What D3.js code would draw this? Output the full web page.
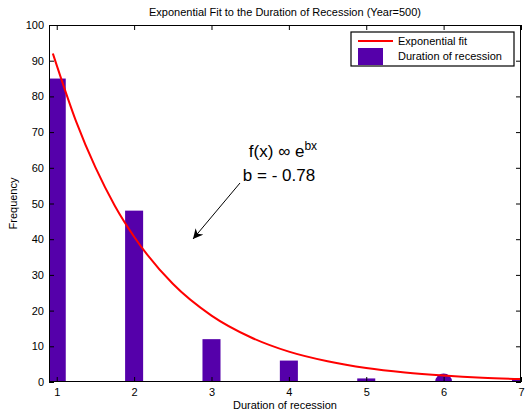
<!DOCTYPE html>
<html lang="en">
<head>
<meta charset="UTF-8">
<title>Exponential Fit to the Duration of Recession</title>
<script src="https://d3js.org/d3.v7.min.js"></script>
<style>
  body {
    margin: 0;
    background: #fff;
    font-family: "Liberation Sans", Arial, Helvetica, sans-serif;
  }
  svg text { fill: #000; }
</style>
</head>
<body>
<div id="chart"></div>
<script>

// ------ data ------

const durations = [1, 2, 3, 4, 5, 6, 7];
const frequencies = [85, 48, 12, 6, 1, 0, 1];
const markerDurations = [6];               // the round marker sitting on the axis

// exponential fit curve, sampled from the plotted line
const fitX = [0.95, 1, 1.25, 1.5, 1.75, 2, 2.5, 3, 3.5, 4, 4.5, 5, 5.5, 6, 6.5, 7];
const fitY = [92, 88.7, 73, 60.1, 49.4, 40.7, 27.5, 18.6, 12.6, 8.5, 5.8, 3.9, 2.65, 1.8, 1.2, 0.82];

const xTicks = [1, 2, 3, 4, 5, 6, 7];
const yTicks = d3.range(0, 101, 10);

const legendLabels = ["Exponential fit", "Duration of recession"];

// ------ chart ------

const width = 525, height = 411;
const margin = {top: 25, right: 4, bottom: 29, left: 49};

const x = d3.scaleLinear().domain([0.9, 7]).range([margin.left, width - margin.right]);
const y = d3.scaleLinear().domain([0, 100]).range([height - margin.bottom, margin.top]);

const barWidth = 0.233;
const purple = "#5500aa";

const svg = d3.select("#chart")
  .append("svg")
    .attr("width", width)
    .attr("height", height);

svg.append("clipPath").attr("id", "plot-clip")
  .append("rect")
    .attr("x", x.range()[0])
    .attr("y", y.range()[1])
    .attr("width", x.range()[1] - x.range()[0])
    .attr("height", y.range()[0] - y.range()[1]);

const plot = svg.append("g").attr("clip-path", "url(#plot-clip)");

plot.selectAll("rect.bar")
  .data(durations.map((d, i) => ({d, f: frequencies[i]})))
  .join("rect")
    .attr("class", "bar")
    .attr("x", p => x(p.d - barWidth / 2))
    .attr("width", p => x(p.d + barWidth / 2) - x(p.d - barWidth / 2))
    .attr("y", p => y(p.f))
    .attr("height", p => y(0) - y(p.f))
    .attr("fill", purple);

plot.selectAll("circle.marker")
  .data(markerDurations)
  .join("circle")
    .attr("class", "marker")
    .attr("cx", d => x(d))
    .attr("cy", y(0))
    .attr("r", 8.5)
    .attr("fill", purple);

const line = d3.line()
  .x(d => x(d[0]))
  .y(d => y(d[1]))
  .curve(d3.curveMonotoneX);

plot.append("path")
  .datum(fitX.map((v, i) => [v, fitY[i]]))
  .attr("d", line)
  .attr("fill", "none")
  .attr("stroke", "#ff0000")
  .attr("stroke-width", 2);

// ------ axes (MATLAB-style box with inward ticks) ------

const tickLen = 5;
const fontSize = "11px";

const bottomAxis = d3.axisBottom(x).tickValues(xTicks).tickFormat(d3.format("d"))
  .tickSizeInner(-tickLen).tickSizeOuter(0).tickPadding(6);
const topAxis = d3.axisTop(x).tickValues(xTicks).tickSizeInner(-tickLen).tickSizeOuter(0).tickFormat("");
const leftAxis = d3.axisLeft(y).tickValues(yTicks).tickSizeInner(-tickLen).tickSizeOuter(0).tickPadding(5);
const rightAxis = d3.axisRight(y).tickValues(yTicks).tickSizeInner(-tickLen).tickSizeOuter(0).tickFormat("");

function styleAxis(g) {
  g.select(".domain").remove();
  g.selectAll("line").attr("stroke", "#000");
  g.selectAll("text").style("font-size", fontSize).style("font-family", "inherit");
}

svg.append("g").attr("transform", `translate(0,${y(0)})`).call(bottomAxis).call(styleAxis);
svg.append("g").attr("transform", `translate(0,${y(100)})`).call(topAxis).call(styleAxis);
svg.append("g").attr("transform", `translate(${x(0.9)},0)`).call(leftAxis).call(styleAxis);
svg.append("g").attr("transform", `translate(${x(7)},0)`).call(rightAxis).call(styleAxis);

svg.append("rect")
  .attr("x", x(0.9) + 0.5)
  .attr("y", y(100) + 0.5)
  .attr("width", x(7) - x(0.9) - 1)
  .attr("height", y(0) - y(100) - 1)
  .attr("fill", "none")
  .attr("stroke", "#000")
  .attr("stroke-width", 1);

// ------ titles ------

svg.append("text")
  .attr("x", (x(0.9) + x(7)) / 2)
  .attr("y", 16)
  .attr("text-anchor", "middle")
  .style("font-size", fontSize)
  .text("Exponential Fit to the Duration of Recession (Year=500)");

svg.append("text")
  .attr("x", (x(0.9) + x(7)) / 2)
  .attr("y", 409)
  .attr("text-anchor", "middle")
  .style("font-size", fontSize)
  .text("Duration of recession");

svg.append("text")
  .attr("transform", `translate(17,${(y(0) + y(100)) / 2}) rotate(-90)`)
  .attr("text-anchor", "middle")
  .style("font-size", fontSize)
  .text("Frequency");

// ------ annotation ------

const note = svg.append("text")
  .attr("x", 283)
  .attr("y", 157)
  .attr("text-anchor", "middle")
  .style("font-size", "17px");
note.append("tspan").text("f(x) \u221E e");
note.append("tspan").attr("dy", -7).style("font-size", "12px").text("bx");

svg.append("text")
  .attr("x", 279)
  .attr("y", 181)
  .attr("text-anchor", "middle")
  .style("font-size", "17px")
  .text("b = - 0.78");

svg.append("defs").append("marker")
  .attr("id", "arrow")
  .attr("viewBox", "0 0 10 10")
  .attr("refX", 10).attr("refY", 5)
  .attr("markerWidth", 10).attr("markerHeight", 10)
  .attr("markerUnits", "userSpaceOnUse")
  .attr("orient", "auto")
  .append("path")
    .attr("d", "M0,0 L10,5 L0,10 L3,5 Z")
    .attr("fill", "#000");

svg.append("line")
  .attr("x1", 240).attr("y1", 183)
  .attr("x2", 193).attr("y2", 239)
  .attr("stroke", "#000")
  .attr("stroke-width", 1)
  .attr("marker-end", "url(#arrow)");

// ------ legend ------

const legend = svg.append("g").attr("transform", "translate(351,32)");

legend.append("rect")
  .attr("width", 163).attr("height", 34)
  .attr("fill", "#fff")
  .attr("stroke", "#000")
  .attr("stroke-width", 1.2);

legend.append("line")
  .attr("x1", 7).attr("x2", 42)
  .attr("y1", 9).attr("y2", 9)
  .attr("stroke", "#ff0000")
  .attr("stroke-width", 2);

legend.append("rect")
  .attr("x", 7).attr("y", 16)
  .attr("width", 25).attr("height", 17)
  .attr("fill", purple);

legend.selectAll("text.lbl")
  .data(legendLabels)
  .join("text")
    .attr("class", "lbl")
    .attr("x", 47)
    .attr("y", (d, i) => 13 + i * 15)
    .style("font-size", fontSize)
    .text(d => d);

</script>
</body>
</html>
